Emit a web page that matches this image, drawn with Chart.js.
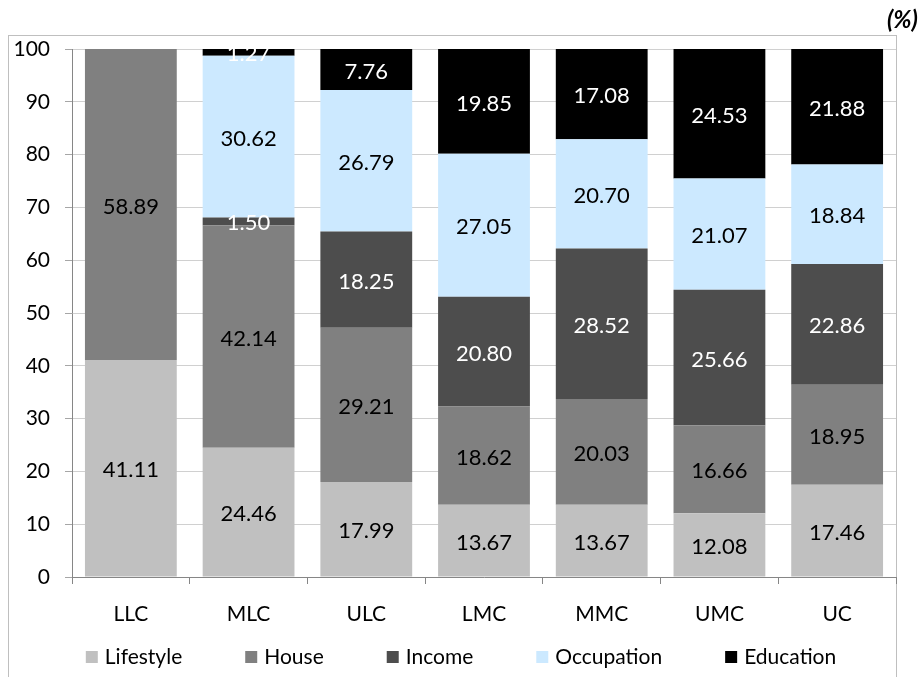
<!DOCTYPE html>
<html>
<head>
<meta charset="utf-8">
<script src="https://cdn.jsdelivr.net/npm/chart.js@4/dist/chart.umd.min.js"></script>
<style>
  html, body { margin: 0; padding: 0; background: #ffffff; }
  #wrap { width: 923px; height: 677px; }
</style>
</head>
<body>
<div id="wrap"><canvas id="c" width="923" height="677"></canvas></div>
<script>
// Share of each factor (%) by class group
const categories = ['LLC', 'MLC', 'ULC', 'LMC', 'MMC', 'UMC', 'UC'];
const seriesNames = ['Lifestyle', 'House', 'Income', 'Occupation', 'Education'];
const lifestyle  = [41.11, 24.46, 17.99, 13.67, 13.67, 12.08, 17.46];
const house      = [58.89, 42.14, 29.21, 18.62, 20.03, 16.66, 18.95];
const income     = [0,      1.50, 18.25, 20.80, 28.52, 25.66, 22.86];
const occupation = [0,     30.62, 26.79, 27.05, 20.70, 21.07, 18.84];
const education  = [0,      1.27,  7.76, 19.85, 17.08, 24.53, 21.88];
const yTicks = [0, 10, 20, 30, 40, 50, 60, 70, 80, 90, 100];
const unitLabel = '(%)';

const fills = ['#c0c0c0', '#808080', '#4d4d4d', '#cce9ff', '#000000'];
const labelColors = ['#000000', '#000000', '#ffffff', '#000000', '#ffffff'];
const FONT = 'Lato, "Open Sans", sans-serif';

const seriesValues = [lifestyle, house, income, occupation, education];
const datasets = seriesNames.map((name, i) => ({
  label: name,
  data: seriesValues[i],
  backgroundColor: fills[i],
  borderWidth: 0,
  barPercentage: 0.78,
  categoryPercentage: 1.0
}));

// Outer frame and unit caption
const framePlugin = {
  id: 'frame',
  beforeDraw(chart) {
    const ctx = chart.ctx;
    ctx.save();
    ctx.fillStyle = '#ffffff';
    ctx.fillRect(0, 0, chart.width, chart.height);
    ctx.strokeStyle = '#bfbfbf';
    ctx.lineWidth = 1;
    ctx.strokeRect(8.5, 35.5, 888, 700);
    ctx.restore();
  },
  afterDraw(chart) {
    const ctx = chart.ctx;
    ctx.save();
    ctx.font = 'italic bold 24px ' + FONT;
    ctx.fillStyle = '#000000';
    ctx.textAlign = 'right';
    ctx.textBaseline = 'middle';
    ctx.fillText(unitLabel, 918, 20);
    ctx.restore();
  }
};

// Value labels centred inside each stacked segment
const valueLabels = {
  id: 'valueLabels',
  afterDatasetsDraw(chart) {
    const ctx = chart.ctx;
    ctx.save();
    ctx.font = '22px ' + FONT;
    ctx.textAlign = 'center';
    ctx.textBaseline = 'middle';
    chart.data.datasets.forEach((ds, i) => {
      const meta = chart.getDatasetMeta(i);
      meta.data.forEach((bar, j) => {
        const v = ds.data[j];
        if (!v) return;
        ctx.fillStyle = labelColors[i];
        ctx.fillText(v.toFixed(2), bar.x, (bar.y + bar.base) / 2 + 2);
      });
    });
    ctx.restore();
  }
};

// Legend row along the bottom
const bottomLegend = {
  id: 'bottomLegend',
  afterDraw(chart) {
    const ctx = chart.ctx;
    ctx.save();
    ctx.font = '21px ' + FONT;
    ctx.textBaseline = 'middle';
    const box = 12, gapText = 7, gapItem = 63, yMid = 657;
    const widths = seriesNames.map(n => box + gapText + ctx.measureText(n).width);
    const total = widths.reduce((a, b) => a + b, 0) + gapItem * (seriesNames.length - 1);
    let x = 461 - total / 2;
    seriesNames.forEach((n, i) => {
      ctx.fillStyle = fills[i];
      ctx.fillRect(x, yMid - box / 2, box, box);
      ctx.fillStyle = '#000000';
      ctx.textAlign = 'left';
      ctx.fillText(n, x + box + gapText, yMid);
      x += widths[i] + gapItem;
    });
    ctx.restore();
  }
};

new Chart(document.getElementById('c'), {
  type: 'bar',
  data: { labels: categories, datasets },
  options: {
    responsive: false,
    animation: false,
    devicePixelRatio: 1,
    layout: { padding: { top: 49, right: 27, bottom: 0, left: 0 } },
    plugins: {
      legend: { display: false },
      tooltip: { enabled: false },
      title: { display: false }
    },
    scales: {
      x: {
        stacked: true,
        grid: {
          offset: true,
          drawOnChartArea: false,
          drawTicks: true,
          tickLength: 7,
          color: '#868686'
        },
        border: { color: '#868686' },
        ticks: {
          color: '#000000',
          font: { family: FONT, size: 21 },
          padding: 18,
          maxRotation: 0
        },
        afterFit(scale) { scale.height = 100; }
      },
      y: {
        stacked: true,
        min: 0,
        max: 100,
        afterBuildTicks(scale) { scale.ticks = yTicks.map(v => ({ value: v })); },
        grid: {
          color: '#d0d0d0',
          tickLength: 7,
          tickColor: '#a6a6a6'
        },
        border: { color: '#868686' },
        ticks: {
          color: '#000000',
          font: { family: FONT, size: 21 },
          padding: 15
        },
        afterFit(scale) { scale.width = 72; }
      }
    }
  },
  plugins: [framePlugin, valueLabels, bottomLegend]
});
</script>
</body>
</html>
